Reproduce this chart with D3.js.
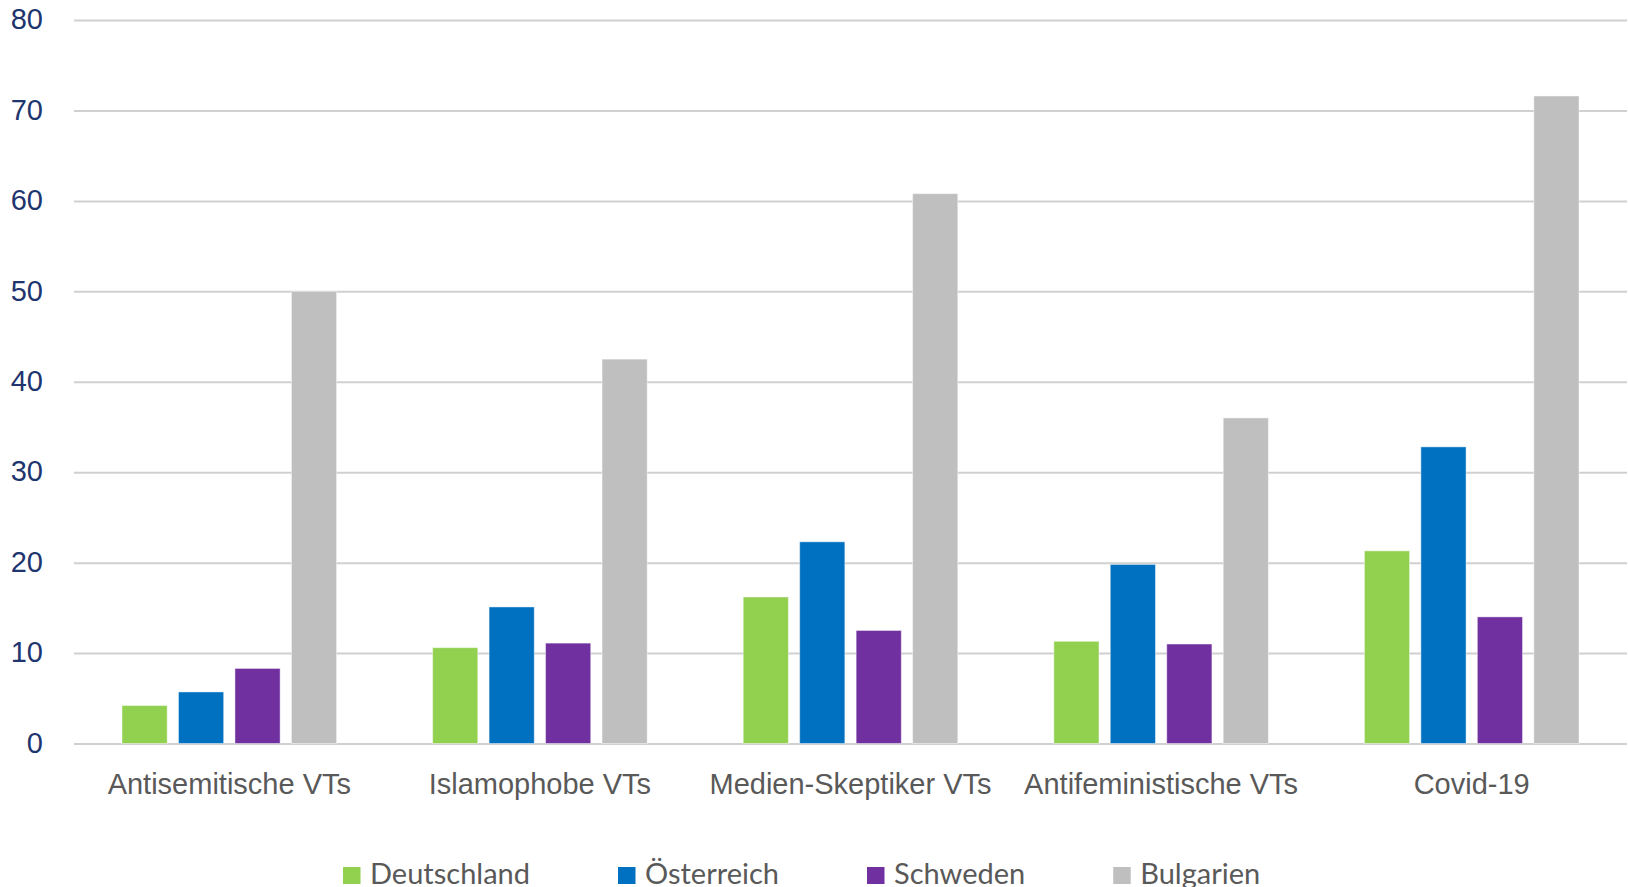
<!DOCTYPE html>
<html lang="de">
<head>
<meta charset="utf-8">
<script src="https://cdn.jsdelivr.net/npm/d3@7"></script>
<style>
  html, body { margin: 0; padding: 0; background: #ffffff; }
  svg { display: block; font-family: Lato, "Open Sans", sans-serif; }
</style>
</head>
<body>
<svg id="chart" width="1628" height="887"></svg>
<script>
// Kategorien der Verschwörungstheorien (VTs)
const categories = ["Antisemitische VTs", "Islamophobe VTs", "Medien-Skeptiker VTs", "Antifeministische VTs", "Covid-19"];

// Länder (Serien)
const countries = ["Deutschland", "Österreich", "Schweden", "Bulgarien"];

// Zustimmung in Prozent je Land, in der Reihenfolge der Kategorien
const deutschland = [4.2, 10.6, 16.2, 11.3, 21.3];
const oesterreich = [5.7, 15.1, 22.3, 19.8, 32.8];
const schweden    = [8.3, 11.1, 12.5, 11.0, 14.0];
const bulgarien   = [50.0, 42.5, 60.8, 36.0, 71.6];

const seriesValues = [deutschland, oesterreich, schweden, bulgarien];
const colors = ["#92D050", "#0070C0", "#7030A0", "#BFBFBF"];

// Y-Achse
const yTicks = [0, 10, 20, 30, 40, 50, 60, 70, 80];

const svg = d3.select("#chart");
const plotLeft = 74, plotRight = 1627, plotTop = 20, plotBottom = 743.5;

const y = d3.scaleLinear().domain([0, 80]).range([plotBottom, plotTop]);
const x0 = d3.scaleBand().domain(categories).range([plotLeft, plotRight]).padding(0);
const x1 = d3.scaleBand().domain(countries).range([0, x0.bandwidth()])
  .paddingInner(0.2).paddingOuter(0.85);

// Gitterlinien und Beschriftung der Y-Achse
const yAxis = svg.append("g")
  .attr("transform", `translate(${plotLeft},0)`)
  .call(d3.axisLeft(y).tickValues(yTicks).tickFormat(d3.format("d"))
    .tickSizeInner(-(plotRight - plotLeft)).tickSizeOuter(0).tickPadding(31));
yAxis.select(".domain").remove();
yAxis.selectAll(".tick line").attr("stroke", "#D0D0D0").attr("stroke-width", 2);
yAxis.selectAll(".tick text")
  .attr("fill", "#1F356E")
  .attr("font-size", 29)
  .attr("dy", "0.3em");

// Balken
const rows = categories.map((c, i) => ({
  category: c,
  values: countries.map((k, j) => ({ country: k, value: seriesValues[j][i], color: colors[j] }))
}));

const groups = svg.append("g").selectAll("g")
  .data(rows).join("g")
  .attr("transform", d => `translate(${x0(d.category)},0)`);

groups.selectAll("rect")
  .data(d => d.values).join("rect")
  .attr("x", d => x1(d.country))
  .attr("y", d => y(d.value))
  .attr("width", x1.bandwidth())
  .attr("height", d => y(0) - y(d.value))
  .attr("fill", d => d.color)
  .attr("stroke", "#ffffff")
  .attr("stroke-opacity", 0.45)
  .attr("stroke-width", 1);

// Kategorienbeschriftung (X-Achse)
const xAxis = svg.append("g")
  .attr("transform", `translate(0,${plotBottom})`)
  .call(d3.axisBottom(x0).tickSize(0).tickPadding(0));
xAxis.select(".domain").remove();
xAxis.selectAll(".tick text")
  .attr("fill", "#595959")
  .attr("font-size", 29)
  .attr("y", 50)
  .attr("dy", 0);

// Legende
const legend = svg.append("g").attr("transform", "translate(343,0)");
let lx = 0;
countries.forEach((name, i) => {
  const item = legend.append("g").attr("transform", `translate(${lx},0)`);
  item.append("rect")
    .attr("x", 0).attr("y", 867)
    .attr("width", 17.5).attr("height", 17)
    .attr("fill", colors[i]);
  const t = item.append("text")
    .attr("x", 27).attr("y", 883.5)
    .attr("fill", "#595959")
    .attr("font-size", 29)
    .text(name);
  lx += 27 + t.node().getComputedTextLength() + 88;
});
</script>
</body>
</html>
